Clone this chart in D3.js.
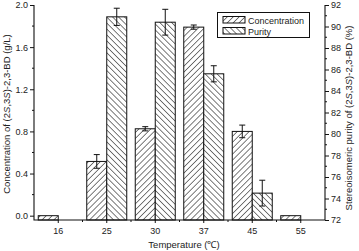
<!DOCTYPE html>
<html><head><meta charset="utf-8">
<script src="https://cdn.jsdelivr.net/npm/d3@7"></script>
<style>body{margin:0;background:#fff}svg{display:block;font-family:"Liberation Sans",Arial,sans-serif}</style>
</head><body><svg id="c" width="359" height="251"></svg>
<script>
const categories = ["16","25","30","37","45","55"];
const concentration = [0, 0.515, 0.825, 1.79, 0.80, 0];
const concentrationErr = [null, 0.065, 0.02, 0.02, 0.06, null];
const purity = [null, 90.9, 90.4, 85.6, 74.5, null];
const purityErr = [null, 0.8, 1.2, 0.75, 1.2, null];
const leftTicks = [0.0, 0.4, 0.8, 1.2, 1.6, 2.0];
const rightTicks = [72, 74, 76, 78, 80, 82, 84, 86, 88, 90, 92];

const svg = d3.select("#c");
const L = 34, R = 325, T = 5, B = 220;
const x = d3.scaleBand().domain(categories).range([L, R]);
const yL = d3.scaleLinear().domain([-0.041, 2.0]).range([B, T]);
const yR = d3.scaleLinear().domain([72, 92]).range([B, T]);
const barW = 20;

const defs = svg.append("defs");
function hatch(id, dir) {
  const p = defs.append("pattern").attr("id", id).attr("patternUnits", "userSpaceOnUse")
    .attr("width", 4.2).attr("height", 4.2)
    .attr("patternTransform", `rotate(${dir})`);
  p.append("rect").attr("width", 4.2).attr("height", 4.2).attr("fill", "#fff");
  p.append("line").attr("x1", 0).attr("y1", 0).attr("x2", 0).attr("y2", 4.2)
    .attr("stroke", "#111").attr("stroke-width", 1.1);
}
hatch("hc", 45);
hatch("hp", -45);

const cx = c => x(c) + x.bandwidth() / 2;

categories.forEach((c, i) => {
  const v = concentration[i];
  if (v == null) return;
  svg.append("rect").attr("x", cx(c) - barW).attr("y", yL(v))
    .attr("width", barW).attr("height", yL.range()[0] - yL(v))
    .attr("fill", "url(#hc)").attr("stroke", "#111").attr("stroke-width", 1);
});
categories.forEach((c, i) => {
  const v = purity[i];
  if (v == null) return;
  svg.append("rect").attr("x", cx(c)).attr("y", yR(v))
    .attr("width", barW).attr("height", yR.range()[0] - yR(v))
    .attr("fill", "url(#hp)").attr("stroke", "#111").attr("stroke-width", 1);
});
function err(xc, yTop, yBot) {
  const g = svg.append("g").attr("stroke", "#111").attr("stroke-width", 1);
  g.append("line").attr("x1", xc).attr("x2", xc).attr("y1", yTop).attr("y2", yBot);
  g.append("line").attr("x1", xc - 3).attr("x2", xc + 3).attr("y1", yTop).attr("y2", yTop);
  g.append("line").attr("x1", xc - 3).attr("x2", xc + 3).attr("y1", yBot).attr("y2", yBot);
}
categories.forEach((c, i) => {
  if (concentrationErr[i] != null)
    err(cx(c) - barW / 2, yL(concentration[i] + concentrationErr[i]), yL(concentration[i] - concentrationErr[i]));
  if (purityErr[i] != null)
    err(cx(c) + barW / 2, yR(purity[i] + purityErr[i]), yR(purity[i] - purityErr[i]));
});

const fs = "9px";
const axL = svg.append("g").attr("transform", `translate(${L},0)`)
  .call(d3.axisLeft(yL).tickValues(leftTicks).tickFormat(d3.format(".1f")).tickSize(4).tickPadding(2));
const axR = svg.append("g").attr("transform", `translate(${R},0)`)
  .call(d3.axisRight(yR).tickValues(rightTicks).tickFormat(d3.format("d")).tickSize(4).tickPadding(2));
const axB = svg.append("g").attr("transform", `translate(0,${B})`)
  .call(d3.axisBottom(x).tickSize(3).tickPadding(5));
[axL, axR, axB].forEach(a => {
  a.select(".domain").remove();
  a.selectAll("line").attr("stroke", "#111");
  a.selectAll("text").attr("font-size", fs).attr("fill", "#222").attr("font-family", "Liberation Sans, Arial, sans-serif");
});
const minorL = leftTicks.slice(0, -1).map(v => v + 0.2);
svg.append("g").selectAll("line").data(minorL).join("line")
  .attr("x1", L - 2).attr("x2", L).attr("y1", d => yL(d)).attr("y2", d => yL(d)).attr("stroke", "#111");
const minorR = rightTicks.slice(0, -1).map(v => v + 1);
svg.append("g").selectAll("line").data(minorR).join("line")
  .attr("x1", R).attr("x2", R + 2).attr("y1", d => yR(d)).attr("y2", d => yR(d)).attr("stroke", "#111");
const minorB = categories.slice(1).map(c => x(c));
svg.append("g").selectAll("line").data(minorB).join("line")
  .attr("x1", d => d).attr("x2", d => d).attr("y1", B).attr("y2", B + 2).attr("stroke", "#111");
svg.append("path").attr("d", `M${L},${T}V${B}H${R}V${T}`).attr("fill", "none").attr("stroke", "#111").attr("stroke-width", 1.1);

function title(g, parts) {
  parts.forEach(p => {
    const t = g.append("tspan").text(p);
    if (p === "S") t.attr("font-style", "italic");
  });
}
const tfs = "9.5px";
const tL = svg.append("text").attr("transform", `translate(10,114) rotate(-90)`)
  .attr("text-anchor", "middle").attr("font-size", tfs).attr("fill", "#222");
title(tL, ["Concentration of (2", "S", ",3", "S", ")-2,3-BD (g/L)"]);
const tR = svg.append("text").attr("transform", `translate(352,118) rotate(-90)`)
  .attr("text-anchor", "middle").attr("font-size", tfs).attr("fill", "#222");
title(tR, ["Stereoisomeric purity of (2", "S", ",3", "S", ")-2,3-BD (%)"]);
svg.append("text").attr("x", 184).attr("y", 248).attr("text-anchor", "middle")
  .attr("font-size", tfs).attr("fill", "#222").text("Temperature (\u2103)");

const lg = svg.append("g");
lg.append("rect").attr("x", 217.5).attr("y", 12.5).attr("width", 92).attr("height", 25)
  .attr("fill", "#fff").attr("stroke", "#111").attr("stroke-width", 1);
const legendItems = [["Concentration", "url(#hc)"], ["Purity", "url(#hp)"]];
legendItems.forEach((d, i) => {
  lg.append("rect").attr("x", 223).attr("y", 16.5 + i * 11).attr("width", 22).attr("height", 6.5)
    .attr("fill", d[1]).attr("stroke", "#111").attr("stroke-width", 1);
  lg.append("text").attr("x", 248).attr("y", 23.5 + i * 11).attr("font-size", "9px").attr("fill", "#222").text(d[0]);
});
</script></body></html>
